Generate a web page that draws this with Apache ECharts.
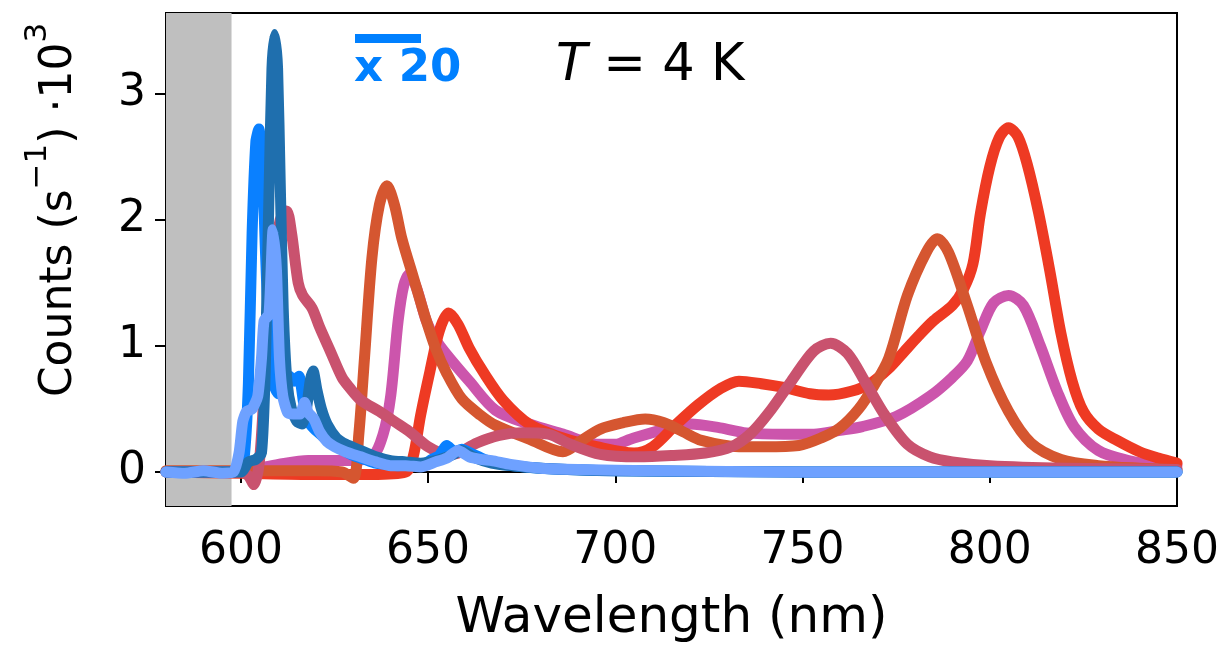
<!DOCTYPE html>
<html>
<head>
<meta charset="utf-8">
<script src="https://cdn.jsdelivr.net/npm/echarts@6/dist/echarts.min.js"></script>
<style>
  html, body { margin: 0; padding: 0; background: #fff; }
  #main { width: 1229px; height: 649px; }
</style>
</head>
<body>
<div id="main"></div>
<script>
// [wavelength nm, counts x10^3]
var pinkLine = [[580,0],[600,0],[605,0.03],[610,0.06],[618,0.09],[628,0.09],[635,0.12],[638,0.3],[640,0.6],[642,1.2],[643.5,1.48],[645,1.57],[647,1.45],[649.5,1.2],[652,1.05],[655,0.93],[661,0.72],[668,0.49],[677,0.38],[686,0.3],[695,0.22],[700,0.22],[704,0.26],[712,0.33],[720,0.38],[728,0.35],[735,0.31],[745,0.3],[753,0.3],[760,0.33],[766,0.36],[775,0.44],[784,0.6],[790,0.75],[794,0.88],[797.5,1.12],[801,1.34],[805,1.4],[809,1.32],[813.5,1.0],[818,0.64],[822.5,0.36],[829,0.17],[837,0.09],[843,0.06],[850,0.05]];
var redLine = [[580,0],[600,-0.01],[620,-0.02],[635,-0.02],[644,0],[646,0.12],[648,0.45],[650.5,0.8],[653,1.12],[655.5,1.26],[658,1.17],[661,0.98],[665,0.78],[670,0.57],[677,0.38],[686,0.27],[695,0.2],[705,0.15],[710,0.2],[716,0.37],[722,0.53],[728,0.66],[733,0.72],[739,0.7],[745,0.67],[752,0.62],[757,0.61],[763,0.64],[768,0.7],[773,0.82],[777,0.95],[781,1.08],[785,1.2],[790,1.32],[793,1.45],[795.5,1.65],[797.5,2.05],[800,2.42],[802.5,2.65],[805,2.73],[807.5,2.66],[810,2.44],[813,2.06],[816,1.6],[819,1.1],[822,0.72],[825,0.48],[829,0.34],[834,0.25],[840,0.16],[845,0.11],[850,0.07]];
var orangeLine = [[580,0.01],[600,0.01],[620,0.01],[627,0],[630,-0.05],[631.5,0.3],[633,0.9],[635,1.7],[637,2.12],[639,2.27],[641,2.12],[643,1.85],[646,1.55],[649,1.25],[652,0.98],[655,0.78],[659,0.58],[664,0.45],[668,0.37],[677,0.26],[686,0.16],[691,0.25],[696,0.34],[702,0.39],[708,0.42],[713,0.39],[718,0.32],[723,0.25],[733,0.2],[740,0.2],[749,0.21],[755,0.27],[760,0.35],[765,0.5],[769,0.68],[773,0.9],[778,1.4],[783,1.74],[786,1.85],[789,1.74],[794,1.32],[799,0.87],[805,0.48],[811,0.23],[819,0.1],[829,0.05],[840,0.03],[850,0.02]];
var roseLine = [[580,0],[600,0],[602,-0.03],[603.5,-0.1],[605,0.1],[606.5,0.8],[608.5,1.6],[610.5,2.0],[612.2,2.07],[613.5,1.9],[615.3,1.5],[616.5,1.4],[619,1.3],[621,1.15],[624,0.95],[627,0.75],[629,0.67],[632,0.57],[637,0.48],[641,0.4],[645,0.32],[650,0.2],[655,0.14],[658,0.15],[663,0.23],[669,0.29],[675,0.31],[682,0.3],[688,0.22],[696,0.14],[706,0.12],[715,0.13],[724,0.15],[731,0.2],[736,0.3],[741,0.47],[747,0.72],[753,0.96],[757.5,1.02],[762,0.94],[767,0.7],[772,0.45],[778,0.22],[784,0.12],[790,0.08],[800,0.05],[820,0.03],[850,0.02]];
var brightBlueLine = [[580,0],[590,0],[598,0],[600,0.02],[601,0.15],[602,0.7],[603,1.9],[604,2.62],[604.8,2.72],[605.8,2.4],[606.5,1.8],[607.5,1.05],[608.5,0.72],[610,0.62],[611.5,0.65],[613,0.76],[614.2,0.72],[615.5,0.76],[617,0.5],[618.5,0.38],[620,0.33],[622,0.28],[624.5,0.22],[627,0.18],[630,0.13],[633,0.1],[636,0.07],[639,0.06],[642,0.05],[645,0.07],[648,0.05],[651,0.1],[653,0.13],[655,0.21],[657,0.16],[659,0.18],[662,0.14],[665,0.1],[670,0.06],[680,0.03],[700,0.01],[750,0],[850,0]];
var darkBlueLine = [[580,0],[600,0],[602,0.08],[604,0.1],[605.5,0.15],[606.5,0.8],[607.5,2.2],[608.3,3.2],[609,3.47],[609.8,3.2],[610.5,2.3],[611.3,1.3],[612.3,0.72],[613.5,0.5],[615,0.4],[616.3,0.38],[617.5,0.5],[618.5,0.72],[619.3,0.8],[620.3,0.65],[621.5,0.5],[623,0.38],[625.5,0.27],[628,0.22],[632,0.17],[636,0.12],[640,0.09],[644,0.08],[648,0.07],[652,0.09],[656,0.13],[659,0.17],[662,0.12],[667,0.07],[672,0.05],[680,0.03],[700,0.01],[750,0],[850,0]];
var lightBlueLine = [[580,0],[585,-0.01],[590,0.01],[595,-0.01],[598,0],[599.5,0.15],[600.5,0.4],[601.5,0.48],[603,0.5],[604.5,0.6],[605.5,0.9],[606.2,1.2],[607.5,1.25],[608.6,1.92],[609.5,1.6],[610.3,0.9],[611.2,0.6],[612.5,0.47],[614,0.46],[615.8,0.46],[617,0.55],[618,0.47],[619.5,0.42],[621,0.32],[623,0.24],[625,0.2],[628,0.16],[632,0.12],[636,0.08],[640,0.05],[644,0.05],[648,0.04],[652,0.08],[655,0.11],[658,0.17],[661,0.12],[664,0.1],[667,0.09],[672,0.06],[680,0.03],[690,0.02],[710,0.01],[750,0],[850,0]];

var xTicks = [600, 650, 700, 750, 800, 850];
var yTicks = [0, 1, 2, 3];
var grayBand = [580, 597.5];

var FONT = 'DejaVu Sans';

var myChart = echarts.init(document.getElementById('main'));

function lineSeries(data, color, smooth) {
    return {
        type: 'line',
        data: data,
        showSymbol: false,
        smooth: smooth,
        lineStyle: { color: color, width: 11, cap: 'round', join: 'round' },
        itemStyle: { color: color },
        emphasis: { disabled: true }
    };
}

var series = [
    lineSeries(pinkLine, '#cc55ac', 0.3),
    lineSeries(redLine, '#ee3a23', 0.3),
    lineSeries(orangeLine, '#d55630', 0.3),
    lineSeries(roseLine, '#c9526e', 0.3),
    lineSeries(brightBlueLine, '#0a80ff', 0.2),
    lineSeries(darkBlueLine, '#1f6fae', 0.2),
    lineSeries(lightBlueLine, '#6ea1ff', 0.2)
];
// grey shaded region on the left
series[0].markArea = {
    silent: true,
    itemStyle: { color: '#bfbfbf', opacity: 1 },
    data: [[{ xAxis: grayBand[0] }, { xAxis: grayBand[1] }]]
};

var option = {
    animation: false,
    backgroundColor: '#fff',
    grid: {
        left: 166, right: 52, top: 13, bottom: 140,
        show: true, borderColor: '#000', borderWidth: 2,
        backgroundColor: 'transparent'
    },
    xAxis: {
        type: 'value',
        min: 580, max: 850,
        name: 'Wavelength (nm)',
        nameLocation: 'middle',
        nameGap: 88,
        nameTextStyle: { fontFamily: FONT, fontSize: 50, color: '#000' },
        axisLine: { show: true, lineStyle: { color: '#000', width: 2 } },
        axisTick: { show: true, length: 11, lineStyle: { color: '#000', width: 2 }, customValues: xTicks },
        axisLabel: { fontFamily: FONT, fontSize: 44, color: '#000', margin: 24, customValues: xTicks },
        splitLine: { show: false }
    },
    yAxis: {
        type: 'value',
        min: -0.27, max: 3.64,
        axisLine: { show: true, lineStyle: { color: '#000', width: 2 } },
        axisTick: { show: true, length: 11, lineStyle: { color: '#000', width: 2 }, customValues: yTicks },
        axisLabel: { fontFamily: FONT, fontSize: 44, color: '#000', margin: 20, customValues: yTicks },
        splitLine: { show: false }
    },
    graphic: [
        {
            type: 'text', x: 52, y: 210, rotation: Math.PI / 2,
            style: {
                text: '{n|Counts (s}{sup|\u22121}{n|) \u00b710}{sup|3}',
                fontFamily: FONT, fontSize: 44, fill: '#000',
                align: 'center', verticalAlign: 'middle',
                rich: {
                    n: { fontFamily: FONT, fontSize: 44, lineHeight: 60, verticalAlign: 'bottom', fill: '#000' },
                    sup: { fontFamily: FONT, fontSize: 31, lineHeight: 30, verticalAlign: 'top', fill: '#000' }
                }
            }
        },
        {
            type: 'rect', shape: { x: 355, y: 34, width: 66, height: 9 },
            style: { fill: '#0080ff' }
        },
        {
            type: 'text', x: 354, y: 69,
            style: {
                text: 'x 20',
                fontFamily: FONT, fontSize: 45, fontWeight: 'bold', fill: '#0080ff',
                align: 'left', verticalAlign: 'middle'
            }
        },
        {
            type: 'text', x: 556, y: 67,
            style: {
                text: '{i|T} = 4 K',
                fontFamily: FONT, fontSize: 51, fill: '#000',
                align: 'left', verticalAlign: 'middle',
                rich: { i: { fontFamily: FONT, fontSize: 51, fontStyle: 'italic', fill: '#000' } }
            }
        }
    ],
    series: series
};

myChart.setOption(option);
</script>
</body>
</html>
